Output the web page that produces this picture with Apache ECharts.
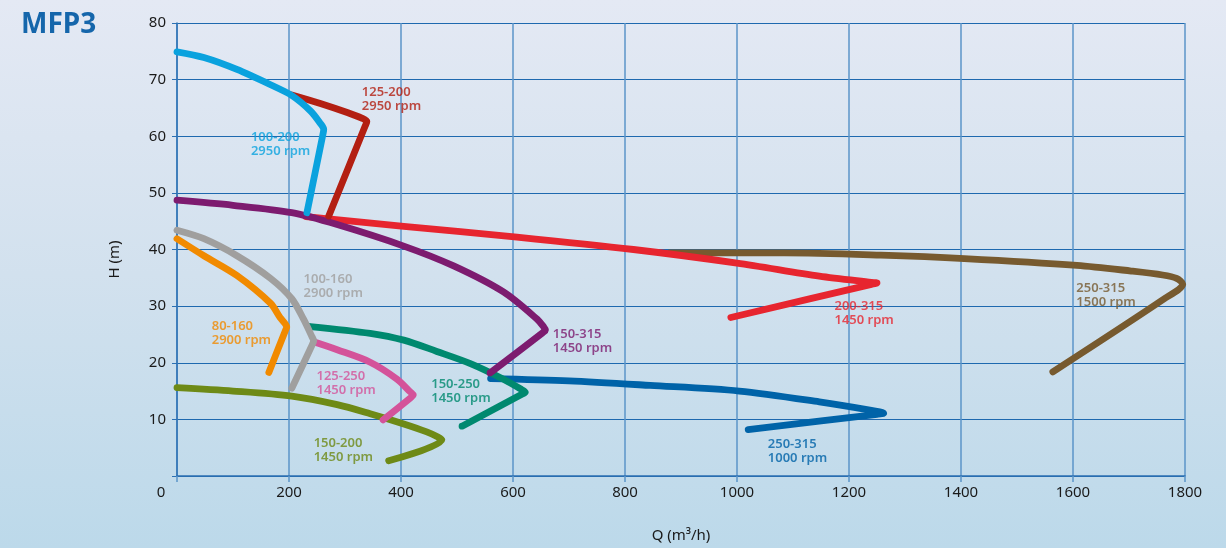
<!DOCTYPE html>
<html>
<head>
<meta charset="utf-8">
<script src="https://cdn.jsdelivr.net/npm/echarts@6/dist/echarts.min.js"></script>
<style>
html,body{margin:0;padding:0;}
#chart{width:1226px;height:548px;background:linear-gradient(to bottom,#e4e9f4 0%,#d2e1ee 50%,#bcd9ea 100%);}
</style>
</head>
<body>
<div id="chart"></div>
<script>
// ---- Data (Q in m3/h, H in m) ----
const xTicks = [0, 200, 400, 600, 800, 1000, 1200, 1400, 1600, 1800];
const yTicks = [0, 10, 20, 30, 40, 50, 60, 70, 80];

const curve_100_200 = [[0,74.9],[48,73.9],[107,71.8],[167,69.1],[205,67.2],[238,64.5],[255,62.4],[262,61.2],[260.5,60.3],[232,46.5]];
const curve_125_200 = [[205,67.3],[256,65.8],[304,64.2],[330,63.2],[339,62.6],[336,61.8],[271,45.9]];
const curve_150_315 = [[0,48.7],[100,47.8],[205,46.5],[286,44.4],[405,40.6],[494,37.1],[583,32.5],[643,27.7],[655,26.3],[658,25.8],[653,25.3],[559,18.2]];
const curve_200_315 = [[230,45.8],[405,44.1],[607,42.2],[815,40.0],[1000,37.6],[1147,35.3],[1240,34.2],[1250,34.1],[1240,33.85],[989,28.0]];
const curve_250_315_1500 = [[880,39.4],[1085,39.4],[1257,39.0],[1406,38.4],[1607,37.2],[1704,36.2],[1760,35.5],[1785,34.9],[1796,33.9],[1763,31.3],[1564,18.4]];
const curve_100_160 = [[0,43.4],[48,41.9],[107,38.9],[167,34.9],[205,31.3],[226,27.7],[241,24.6],[244,23.9],[242,23.3],[205,15.5]];
const curve_80_160 = [[0,41.9],[48,38.9],[107,35.4],[167,30.5],[184,28.0],[193,26.9],[196,26.3],[194,25.8],[164,18.3]];
const curve_150_250 = [[238,26.4],[345,25.2],[405,24.0],[464,22.0],[524,19.85],[583,17.1],[615,15.3],[622,14.8],[615,14.4],[509,8.8]];
const curve_125_250 = [[244,23.7],[286,22.3],[345,20.1],[393,17.1],[416,14.9],[422,14.3],[417,13.8],[368,9.9]];
const curve_150_200 = [[0,15.6],[100,15.0],[205,14.1],[286,12.6],[345,11.0],[405,9.2],[446,7.8],[466,6.9],[473,6.4],[378,2.7]];
const curve_250_315_1000 = [[560,17.2],[700,16.8],[845,16.0],[1004,15.0],[1147,13.1],[1240,11.6],[1262,11.1],[1250,10.9],[1020,8.2]];

const labelTexts = ['100-200\n2950 rpm','125-200\n2950 rpm','150-315\n1450 rpm','200-315\n1450 rpm','250-315\n1500 rpm',
  '100-160\n2900 rpm','80-160\n2900 rpm','150-250\n1450 rpm','125-250\n1450 rpm','150-200\n1450 rpm','250-315\n1000 rpm'];
// label anchor points (left edge, vertical middle), in data units
const labelAnchors = [[132,58.5],[330,66.5],[671,23.8],[1174,28.8],[1606,32.0],
  [226,33.5],[62,25.2],[454,15.0],[249,16.3],[244,4.5],[1055,4.3]];

// ---- Styling ----
const curves = [curve_100_200, curve_125_200, curve_150_315, curve_200_315, curve_250_315_1500,
  curve_100_160, curve_80_160, curve_150_250, curve_125_250, curve_150_200, curve_250_315_1000];
const colors = ['#0aa2de','#b31f12','#7d1b6f','#e7252f','#775a2f','#a09f9e','#f18a00','#00896f','#d4539a','#6e8a16','#0063a8'];
const zs = [11,10,9,4,2,7,8,5,6,4.5,3];

const series = [];
curves.forEach((c, i) => {
  series.push({
    type: 'line', data: c, showSymbol: false, symbol: 'none', silent: true, z: zs[i], smooth: 0.3,
    lineStyle: { color: colors[i], width: 6.8, cap: 'round', join: 'round' }
  });
  series.push({
    type: 'scatter', data: [labelAnchors[i]], symbolSize: 0, silent: true, z: 20,
    label: { show: true, position: 'right', distance: 0, formatter: labelTexts[i],
      color: colors[i], fontFamily: 'Noto Sans', fontSize: 13, fontWeight: 600, lineHeight: 14, align: 'left', verticalAlign: 'middle' }
  });
});

const chart = echarts.init(document.getElementById('chart'), null, {renderer: 'canvas'});
chart.setOption({
  backgroundColor: 'transparent',
  animation: false,
  title: { text: 'MFP3', left: 16, top: 6, textStyle: { color: '#1566ab', fontFamily: 'Noto Sans', fontWeight: 'bold', fontSize: 28 } },
  grid: { left: 177, right: 41, top: 23, bottom: 69 },
  xAxis: {
    type: 'value', min: xTicks[0], max: xTicks[xTicks.length-1], interval: 200,
    name: 'Q (m³/h)', nameLocation: 'middle', nameGap: 52,
    nameTextStyle: { color: '#1a1a1a', fontFamily: 'Noto Sans', fontSize: 15 },
    axisLine: { show: true, lineStyle: { color: '#2c70b3', width: 1.5 } },
    axisTick: { show: true, length: 6, lineStyle: { color: '#5b95c9', width: 1.5 } },
    splitLine: { show: true, lineStyle: { color: '#5b95c9', width: 1.5 } },
    axisLabel: { color: '#1a1a1a', fontFamily: 'Noto Sans', fontSize: 15, margin: 9,
      formatter: v => v === 0 ? '{o|0}' : String(v),
      rich: { o: { padding: [0, 32, 0, 0], fontFamily: 'Noto Sans', fontSize: 15, color: '#1a1a1a' } } }
  },
  yAxis: {
    type: 'value', min: yTicks[0], max: yTicks[yTicks.length-1], interval: 10,
    name: 'H (m)', nameLocation: 'middle', nameGap: 55, nameRotate: 90,
    nameTextStyle: { color: '#1a1a1a', fontFamily: 'Noto Sans', fontSize: 15, padding: [0, 20, 0, 0] },
    axisLine: { show: true, lineStyle: { color: '#2c70b3', width: 1.5 } },
    axisTick: { show: true, length: 5, lineStyle: { color: '#2c70b3', width: 1 } },
    splitLine: { show: true, lineStyle: { color: '#1e69af', width: 1.2 } },
    axisLabel: { color: '#1a1a1a', fontFamily: 'Noto Sans', fontSize: 15, margin: 11,
      formatter: v => v === 0 ? '' : String(v) }
  },
  series: series
});
</script>
</body>
</html>
